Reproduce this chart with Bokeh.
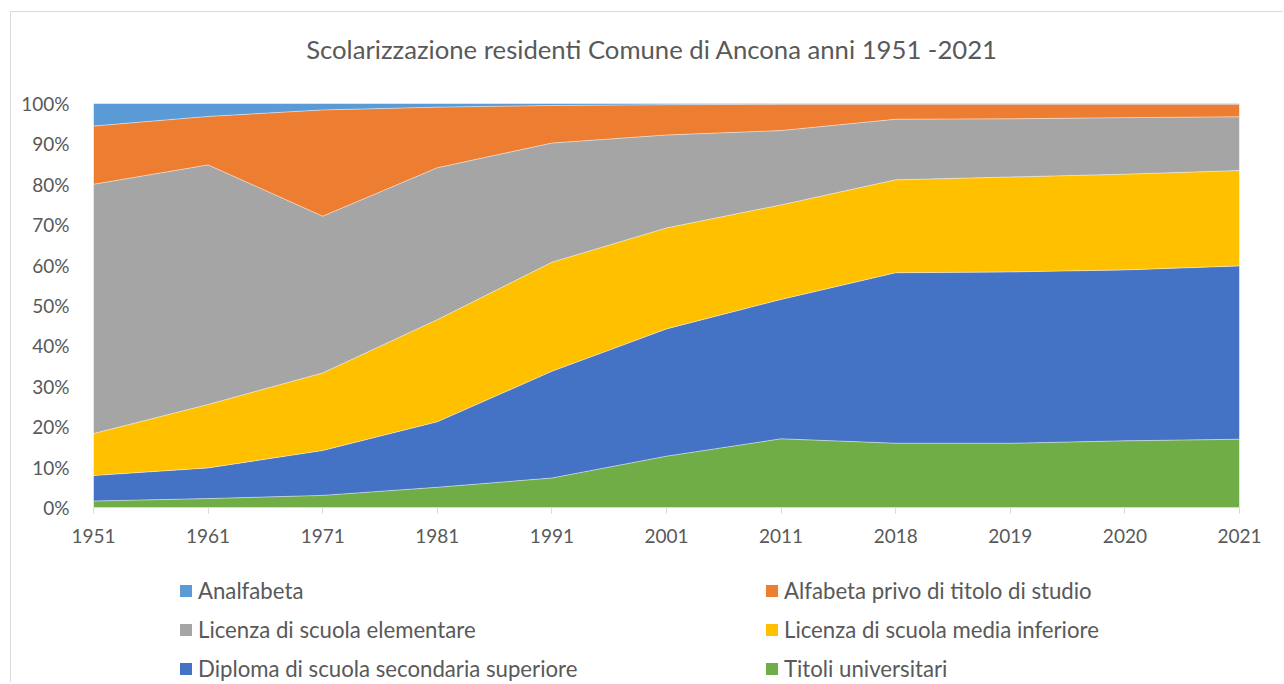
import numpy as np
from bokeh.plotting import figure
from bokeh.layouts import column
from bokeh.models import (ColumnDataSource, Range1d, FixedTicker, PrintfTickFormatter,
                          Legend, LegendItem, Label)
from bokeh.embed import file_html
from bokeh.resources import INLINE

# ---- data (percent of residents) ----
years = ["1951", "1961", "1971", "1981", "1991", "2001", "2011", "2018", "2019", "2020", "2021"]
titoli_universitari = [1.6, 2.2, 3.0, 5.0, 7.3, 12.7, 17.0, 15.9, 15.9, 16.5, 16.9]
diploma_superiore = [6.3, 7.6, 11.1, 16.2, 26.4, 31.5, 34.5, 42.2, 42.4, 42.3, 42.9]
licenza_media = [10.4, 15.7, 19.2, 25.3, 27.0, 25.0, 23.4, 23.0, 23.5, 23.7, 23.6]
licenza_elementare = [61.7, 59.3, 38.8, 37.6, 29.5, 23.0, 18.4, 15.0, 14.4, 14.0, 13.3]
alfabeta_privo = [14.4, 12.0, 26.3, 15.0, 9.3, 7.5, 6.5, 3.7, 3.6, 3.3, 3.1]
analfabeta = [5.6, 3.2, 1.6, 0.9, 0.5, 0.3, 0.2, 0.2, 0.2, 0.2, 0.2]

title_text = "Scolarizzazione residenti Comune di Ancona anni 1951 -2021"
labels = ["Titoli universitari", "Diploma di scuola secondaria superiore",
          "Licenza di scuola media inferiore", "Licenza di scuola elementare",
          "Alfabeta privo di titolo di studio", "Analfabeta"]
colors = ["#70AD47", "#4472C4", "#FFC000", "#A5A5A5", "#ED7D31", "#5B9BD5"]
series = [titoli_universitari, diploma_superiore, licenza_media,
          licenza_elementare, alfabeta_privo, analfabeta]

arr = np.array(series, dtype=float)
pct = arr / arr.sum(axis=0) * 100.0
keys = ["s%d" % i for i in range(len(series))]
data = {"x": list(range(len(years)))}
for k, row in zip(keys, pct):
    data[k] = row
source = ColumnDataSource(data)

FONT = "Lato"
TXT = "#595959"
W = 1272
ML, MR = 82, 44
FRAME_W = W - ML - MR


def bare(height):
    f = figure(width=W, height=height, output_backend="svg", toolbar_location=None,
               x_range=Range1d(0, FRAME_W), y_range=Range1d(0, height),
               min_border_left=ML, min_border_right=MR, min_border_top=0, min_border_bottom=0,
               x_axis_type=None, y_axis_type=None)
    f.outline_line_color = None
    f.xgrid.grid_line_color = None
    f.ygrid.grid_line_color = None
    f.border_fill_color = "white"
    f.background_fill_color = "white"
    return f


# ---- title strip ----
tf = bare(70)
tf.add_layout(Label(x=FRAME_W / 2 - 14.5, y=34, text=title_text, text_align="center",
                    text_baseline="middle", text_font=FONT, text_font_size="25.7px",
                    text_color=TXT))

# ---- main chart ----
p = figure(width=W, height=480, output_backend="svg", toolbar_location=None,
           x_range=Range1d(0, len(years) - 1), y_range=Range1d(0, 100),
           min_border_left=ML, min_border_right=MR, min_border_top=21, min_border_bottom=55)

p.varea_stack(stackers=keys, x="x", color=colors, source=source)
p.vline_stack(stackers=keys[:-1], x="x", color="white", line_width=0.8, line_alpha=0.6, source=source)

p.outline_line_color = None
p.xgrid.grid_line_color = None
p.ygrid.grid_line_color = None
p.background_fill_color = "white"
p.border_fill_color = "white"

xa = p.xaxis[0]
xa.ticker = FixedTicker(ticks=list(range(len(years))))
xa.major_label_overrides = {i: y for i, y in enumerate(years)}
xa.axis_line_color = "#D9D9D9"
xa.major_tick_line_color = "#D9D9D9"
xa.major_tick_in = 0
xa.major_tick_out = 6
xa.minor_tick_line_color = None
xa.major_label_text_font = FONT
xa.major_label_text_font_size = "19px"
xa.major_label_text_color = TXT
xa.major_label_standoff = 15

ya = p.yaxis[0]
ya.ticker = FixedTicker(ticks=list(range(0, 101, 10)))
ya.formatter = PrintfTickFormatter(format="%d%%")
ya.axis_line_color = None
ya.major_tick_line_color = None
ya.minor_tick_line_color = None
ya.major_label_text_font = FONT
ya.major_label_text_font_size = "19px"
ya.major_label_text_color = TXT
ya.major_label_standoff = 18

# ---- legend strip ----
lg = bare(120)
swatches = [lg.varea(x=[FRAME_W + 10, FRAME_W + 20], y1=[500, 500], y2=[510, 510], color=c)
            for c in colors]


def make_legend(idx, loc):
    return Legend(items=[LegendItem(label=labels[i], renderers=[swatches[i]]) for i in idx],
                  location=loc, orientation="vertical",
                  glyph_width=15, glyph_height=15, label_standoff=5,
                  label_height=26, spacing=12, padding=0, margin=0,
                  border_line_color=None, background_fill_alpha=0,
                  label_text_font=FONT, label_text_font_size="22.2px",
                  label_text_color=TXT)


lg.add_layout(make_legend([5, 3, 1], (85, 0)))
lg.add_layout(make_legend([4, 2, 0], (671, 0)))

layout = column(tf, p, lg, spacing=0)
layout.styles = {"margin-left": "10px", "margin-top": "11px",
                 "border-left": "1px solid #D9D9D9", "border-top": "1px solid #D9D9D9"}

open("out.html", "w").write(file_html(layout, INLINE))
